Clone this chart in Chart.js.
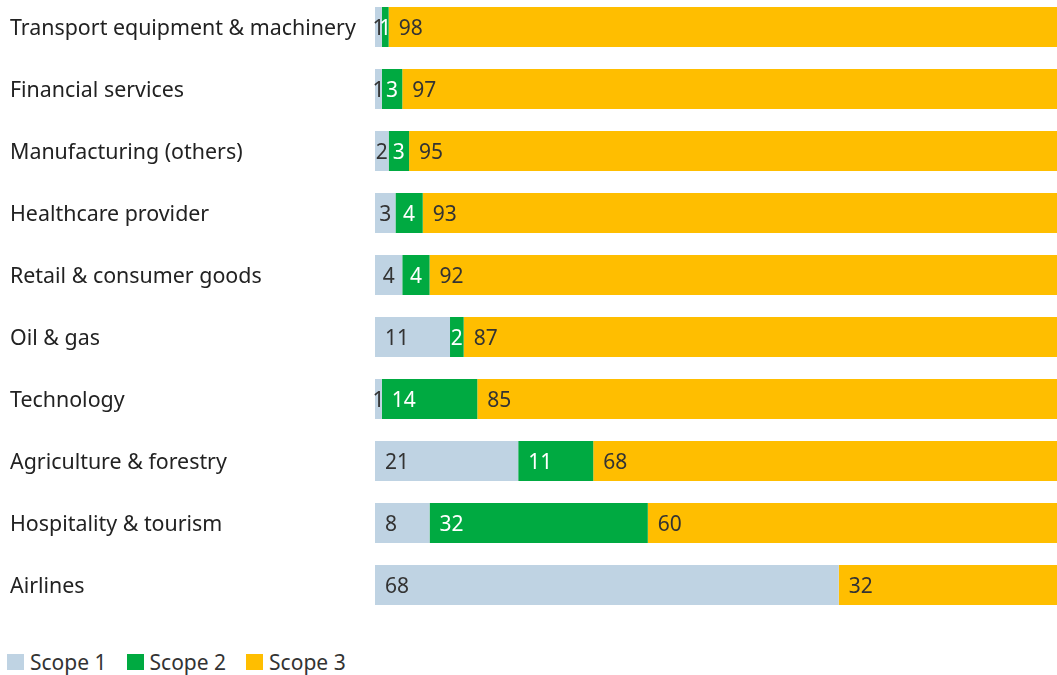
<!DOCTYPE html>
<html>
<head>
<meta charset="utf-8">
<script src="https://cdn.jsdelivr.net/npm/chart.js@4"></script>
<style>
  body { margin: 0; background: #fff; width: 1057px; height: 675px; overflow: hidden; position: relative; font-family: "Noto Sans", sans-serif; }
  #wrap { position: absolute; left: 0; top: -4px; width: 1057px; height: 620px; }
  #legend { position: absolute; left: 7px; top: 648px; display: flex; align-items: center; font-size: 21px; color: #333; }
  #legend .item { display: flex; align-items: center; margin-right: 20px; }
  #legend .box { width: 17px; height: 16px; margin-right: 6px; }
</style>
</head>
<body>
<div id="wrap"><canvas id="chart"></canvas></div>
<div id="legend"></div>
<script>
const sectors = [
  'Transport equipment & machinery',
  'Financial services',
  'Manufacturing (others)',
  'Healthcare provider',
  'Retail & consumer goods',
  'Oil & gas',
  'Technology',
  'Agriculture & forestry',
  'Hospitality & tourism',
  'Airlines'
]
const scope1 = [1, 1, 2, 3, 4, 11, 1, 21, 8, 68]
const scope2 = [1, 3, 3, 4, 4, 2, 14, 11, 32, 0]
const scope3 = [98, 97, 95, 93, 92, 87, 85, 68, 60, 32]

const seriesNames = ['Scope 1', 'Scope 2', 'Scope 3']
const seriesColors = ['#bfd3e3', '#00aa41', '#ffbe00']
const labelColors = ['#333333', '#ffffff', '#333333']

const FONT = '"Noto Sans", sans-serif'

// valeurs écrites au début de chaque segment (centrées si le segment est trop étroit)
const segmentLabels = {
  id: 'segmentLabels',
  afterDatasetsDraw(chart) {
    const ctx = chart.ctx
    ctx.save()
    ctx.font = '21px ' + FONT
    ctx.textBaseline = 'middle'
    ctx.textAlign = 'left'
    chart.data.datasets.forEach((ds, i) => {
      const meta = chart.getDatasetMeta(i)
      meta.data.forEach((bar, j) => {
        const v = ds.data[j]
        if (v < 0.5) return
        const text = String(v)
        const tw = ctx.measureText(text).width
        const w = bar.x - bar.base
        const x = bar.base + Math.min(10, (w - tw) / 2)
        ctx.fillStyle = labelColors[i]
        ctx.fillText(text, x, bar.y + 2.5)
      })
    })
    ctx.restore()
  }
}

const chart = new Chart(document.getElementById('chart'), {
  type: 'bar',
  data: {
    labels: sectors,
    datasets: [scope1, scope2, scope3].map((d, i) => ({
      label: seriesNames[i],
      data: d,
      backgroundColor: seriesColors[i],
      borderWidth: 0,
      barPercentage: 40 / 62,
      categoryPercentage: 1
    }))
  },
  options: {
    indexAxis: 'y',
    responsive: true,
    maintainAspectRatio: false,
    animation: false,
    layout: { padding: { left: 10, right: 0, top: 0, bottom: 0 } },
    scales: {
      x: { stacked: true, min: 0, max: 100, display: false },
      y: {
        stacked: true,
        grid: { display: false, drawTicks: false },
        border: { display: false },
        ticks: {
          crossAlign: 'far',
          color: '#222',
          font: { family: FONT, size: 21.4 },
          padding: 0,
          labelOffset: 2
        },
        // largeur fixe pour les libellés, pas de marge haut/bas
        afterFit(scale) {
          scale.width = 365
          scale.paddingTop = 0
          scale.paddingBottom = 0
        }
      }
    },
    plugins: {
      legend: { display: false },
      tooltip: { enabled: false }
    }
  },
  plugins: [segmentLabels]
})

// légende en HTML sous le graphique
const legend = document.getElementById('legend')
chart.data.datasets.forEach(ds => {
  const item = document.createElement('div')
  item.className = 'item'
  item.innerHTML = '<span class="box" style="background:' + ds.backgroundColor + '"></span>' + ds.label
  legend.appendChild(item)
})
</script>
</body>
</html>
